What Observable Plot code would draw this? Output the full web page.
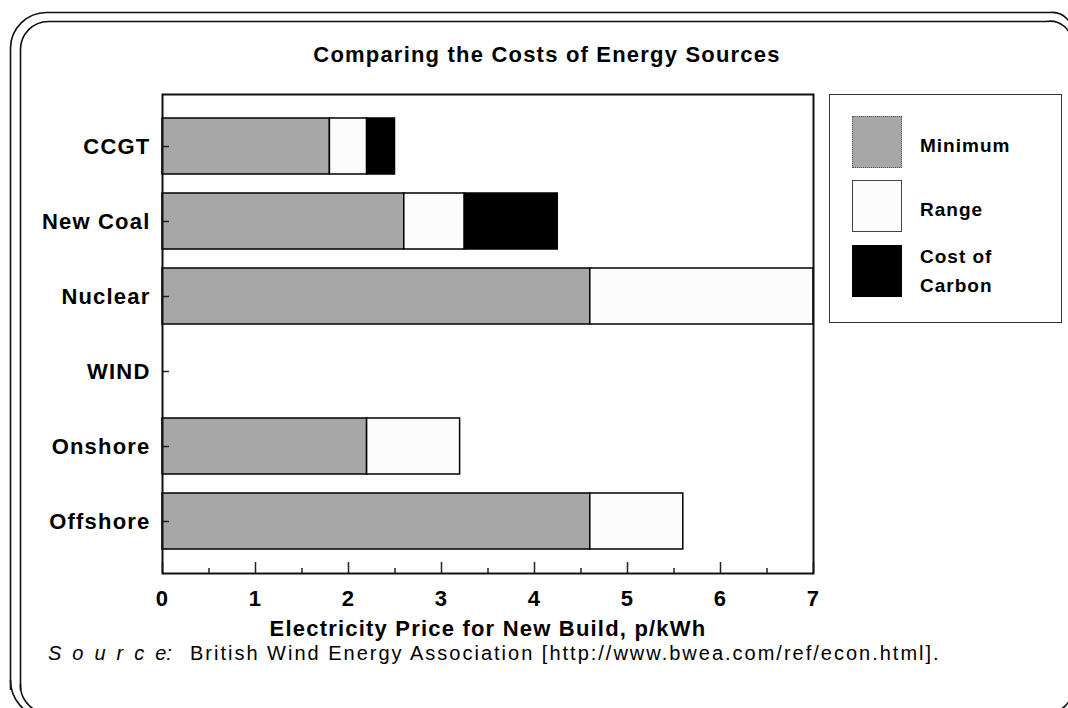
<!DOCTYPE html>
<html>
<head>
<meta charset="utf-8">
<script src="https://cdn.jsdelivr.net/npm/d3@7"></script>
<script src="https://cdn.jsdelivr.net/npm/@observablehq/plot@0.6"></script>
<style>
  html, body { margin: 0; padding: 0; background: #fff; }
  #page { position: relative; width: 1068px; height: 708px; overflow: hidden; background: #fff;
          font-family: "Liberation Sans", Arial, sans-serif; color: #000; }
  #page > * { position: absolute; }
  #decor { left: 0; top: 0; }
  #chart { left: 0; top: 0; }
  #title { left: 0; width: 1094px; top: 43px; text-align: center; font-size: 22px; line-height: 24px;
           font-weight: bold; letter-spacing: 1.2px; }
  #legend { left: 829px; top: 94px; width: 231px; height: 227px; border: 1.5px solid #333; background: #fff; }
  #legend .sw { position: absolute; left: 22px; width: 50px; height: 52px; box-sizing: border-box; }
  #legend .lb { position: absolute; left: 90px; font-size: 19px; line-height: 29px; font-weight: bold; letter-spacing: 1px; }
  #source { left: 48px; top: 643px; font-size: 20px; line-height: 20px; letter-spacing: 2px; white-space: nowrap; }
  #source i { margin-right: 18px; letter-spacing: 0; }
  #source i span { letter-spacing: 11px; }
</style>
</head>
<body>
<div id="page">
  <svg id="decor" width="1068" height="708">
    <g fill="none" stroke="#111" stroke-width="1.6">
      <path d="M10.5,690 V48 A36,36 0 0 1 46.5,12.5 H1050 A20,20 0 0 1 1072,36"/>
      <path d="M10.5,680 A38,38 0 0 0 44,718"/>
      <path d="M20.5,690 V50 A28,28 0 0 1 48.5,21.5 H1046 A22,22 0 0 1 1072,44"/>
      <path d="M20.5,684 A28,28 0 0 0 40,712"/>
      <path d="M1054,712 A24,24 0 0 0 1072,694"/>
    </g>
  </svg>
  <div id="chart"></div>
  <div id="title">Comparing the Costs of Energy Sources</div>
  <div id="legend"></div>
  <div id="source"><i><span>Sourc</span>e:</i>British Wind Energy Association [http://www.bwea.com/ref/econ.html].</div>
</div>
<script>
// Generation technologies, top to bottom
const sources = ["CCGT", "New Coal", "Nuclear", "WIND", "Onshore", "Offshore"];
// Price per kWh (pence): lowest estimate, highest estimate, highest plus carbon cost
const minimum = [1.8, 2.6, 4.6, null, 2.2, 4.6];
const maximum = [2.2, 3.25, 7.0, null, 3.2, 5.6];
const withCarbon = [2.5, 4.25, null, null, null, null];

const parts = ["Minimum", "Range", "Cost of Carbon"];
const partColors = ["#a7a7a7", "#fcfcfc", "#000000"];
const legendLabels = ["Minimum", "Range", "Cost of<br>Carbon"];

const xTicks = [0, 1, 2, 3, 4, 5, 6, 7];
const xMinorTicks = [0.5, 1.5, 2.5, 3.5, 4.5, 5.5, 6.5];

// One stacked segment per part of each bar
const segments = [];
sources.forEach((source, i) => {
  if (minimum[i] != null) segments.push({source, part: "Minimum", x1: 0, x2: minimum[i]});
  if (maximum[i] != null) segments.push({source, part: "Range", x1: minimum[i], x2: maximum[i]});
  if (withCarbon[i] != null) segments.push({source, part: "Cost of Carbon", x1: maximum[i], x2: withCarbon[i]});
});

const plotHeight = 708 - 94 - 135;
const plotWidth = 1068 - 162 - 255;

const chart = Plot.plot({
  width: 1068,
  height: 708,
  marginLeft: 162,
  marginRight: 255,
  marginTop: 94,
  marginBottom: 135,
  style: {
    background: "transparent",
    fontFamily: "'Liberation Sans', Arial, sans-serif",
    fontSize: "22px",
    fontWeight: "bold",
    letterSpacing: "1.2px",
    color: "#000",
    overflow: "visible"
  },
  x: {domain: [0, 7]},
  y: {domain: sources, paddingInner: 0.25, paddingOuter: 0.28},
  color: {domain: parts, range: partColors},
  marks: [
    Plot.barX(segments, {y: "source", x1: "x1", x2: "x2", fill: "part", stroke: "#000", strokeWidth: 1.5}),
    Plot.ruleX(xTicks, {x: d => d, insetTop: plotHeight - 11, stroke: "#222", strokeWidth: 1.5}),
    Plot.ruleX(xMinorTicks, {x: d => d, insetTop: plotHeight - 5, stroke: "#222", strokeWidth: 1.5}),
    Plot.tickY(sources, {y: d => d, insetRight: plotWidth - 7, stroke: "#222", strokeWidth: 1.5}),
    Plot.frame({stroke: "#111", strokeWidth: 2}),
    Plot.axisX({
      ticks: xTicks,
      tickSize: 0,
      tickPadding: 17,
      tickFormat: d => String(d),
      label: "Electricity Price for New Build, p/kWh",
      labelAnchor: "center",
      labelOffset: 62,
      labelArrow: "none"
    }),
    Plot.axisY({tickSize: 0, tickPadding: 12, label: null})
  ]
});
document.getElementById("chart").append(chart);

// Legend swatches and labels
const legend = document.getElementById("legend");
const swatchTops = [21, 85, 150];
const labelTops = [36, 100, 147];
const swatchBorders = ["1.5px dotted #555", "1.5px solid #444", "1.5px solid #000"];
parts.forEach((p, i) => {
  const sw = document.createElement("div");
  sw.className = "sw";
  sw.style.top = swatchTops[i] + "px";
  sw.style.background = partColors[i];
  sw.style.border = swatchBorders[i];
  legend.append(sw);
  const lb = document.createElement("div");
  lb.className = "lb";
  lb.style.top = labelTops[i] + "px";
  lb.innerHTML = legendLabels[i];
  legend.append(lb);
});
</script>
</body>
</html>
